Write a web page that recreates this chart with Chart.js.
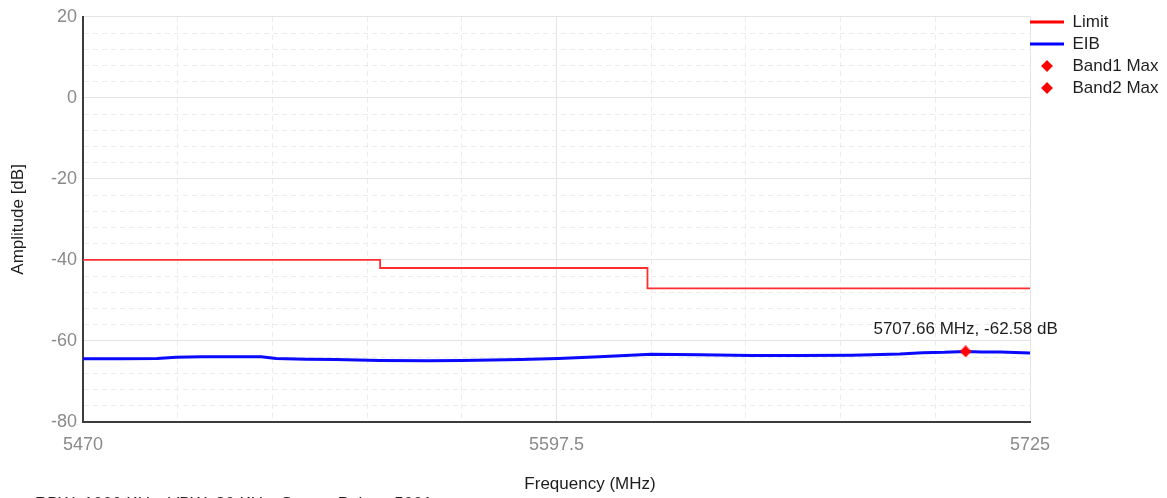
<!DOCTYPE html>
<html>
<head>
<meta charset="utf-8">
<script src="https://cdn.jsdelivr.net/npm/chart.js@4.4.1/dist/chart.umd.min.js"></script>
<style>
    html, body { margin: 0; padding: 0; background: #ffffff; }
    #wrap { width: 1167px; height: 498px; }
</style>
</head>
<body>
<div id="wrap"><canvas id="specChart" width="1167" height="498"></canvas></div>
<script>
// Axis ranges and labelled ticks
const freqMin = 5470;
const freqMax = 5725;
const freqGridStep = 25.5;
const freqLabelTicks = [5470, 5597.5, 5725];
const ampMin = -80;
const ampMax = 20;
const ampGridStep = 4;
const ampLabelTicks = [-80, -60, -40, -20, 0, 20];

// Limit line (stepped)
const limitFreq = [5470, 5550, 5622, 5725];
const limitLevel = [-40, -42, -47, -47];

// EIB trace
const eibFreq = [5470, 5480, 5490, 5495, 5502, 5510, 5518, 5522, 5530, 5538, 5550, 5563, 5572, 5580, 5588,
    5598, 5609, 5616, 5623, 5636, 5650, 5663, 5677, 5690, 5696, 5702, 5707.66, 5712, 5717, 5725];
const eibLevel = [-64.4, -64.4, -64.3, -64.0, -63.9, -63.9, -63.9, -64.3, -64.5, -64.6, -64.8, -64.9, -64.8, -64.7, -64.6,
    -64.3, -63.9, -63.6, -63.3, -63.4, -63.6, -63.6, -63.5, -63.2, -62.9, -62.8, -62.58, -62.7, -62.7, -63.0];

// Band maxima markers
const band1Max = [];
const band2Max = [{ x: 5707.66, y: -62.58 }];
const markerLabel = '5707.66 MHz, -62.58 dB';
const footerText = 'RBW: 1000 KHz, VBW: 30 KHz, Sweep Points: 5001';

const FONT = "'Liberation Sans', Arial, sans-serif";

function makeStar(size, color) {
    const c = document.createElement('canvas');
    c.width = size;
    c.height = size;
    const g = c.getContext('2d');
    const m = size / 2;
    const ir = size * 0.24;
    g.fillStyle = color;
    g.beginPath();
    g.moveTo(m, 0);
    g.lineTo(m + ir, m - ir);
    g.lineTo(size, m);
    g.lineTo(m + ir, m + ir);
    g.lineTo(m, size);
    g.lineTo(m - ir, m + ir);
    g.lineTo(0, m);
    g.lineTo(m - ir, m - ir);
    g.closePath();
    g.fill();
    return c;
}

function isLabelled(list, v) {
    return list.some(t => Math.abs(t - v) < 1e-6);
}

// Pull the legend flush against the plot edge
const legendNudge = {
    id: 'legendNudge',
    afterLayout(chart) {
        chart.legend.left -= 5;
        chart.legend.right -= 5;
        chart.legend.top -= 4.5;
        chart.legend.bottom -= 4.5;
    }
};

// Marker readout, axis caption and sweep info
const textLabels = {
    id: 'textLabels',
    afterDraw(chart) {
        const ctx = chart.ctx;
        const pt = chart.getDatasetMeta(3).data[0];
        ctx.save();
        ctx.fillStyle = '#1e1e1e';
        ctx.font = '17px ' + FONT;
        if (pt) {
            ctx.textAlign = 'center';
            ctx.textBaseline = 'middle';
            ctx.fillText(markerLabel, pt.x, pt.y - 22);
        }
        ctx.textAlign = 'center';
        ctx.textBaseline = 'alphabetic';
        ctx.fillText('Frequency (MHz)', 590, 489);
        ctx.textAlign = 'left';
        ctx.fillText(footerText, 35, 509);
        ctx.restore();
    }
};

function initChart() {
    const ctx = document.getElementById('specChart').getContext('2d');
    const star = makeStar(12, '#ff0000');

    const gridColor = (labels) => (c) =>
        c.tick && isLabelled(labels, c.tick.value) ? '#e4e4e4' : '#ececec';
    const gridDash = (labels) => (c) =>
        c.tick && !isLabelled(labels, c.tick.value) ? [5, 4] : [];

    new Chart(ctx, {
        type: 'line',
        data: {
            datasets: [{
                label: 'Limit',
                data: limitFreq.map((f, i) => ({ x: f, y: limitLevel[i] })),
                borderColor: '#ff2f2f',
                borderWidth: 1.8,
                stepped: 'before',
                pointRadius: 0,
                pointStyle: 'line',
                pointBorderColor: '#ff0000',
                pointBorderWidth: 3,
                order: 2
            },
            {
                label: 'EIB',
                data: eibFreq.map((f, i) => ({ x: f, y: eibLevel[i] })),
                borderColor: '#0a0aff',
                borderWidth: 3,
                tension: 0,
                pointRadius: 0,
                pointStyle: 'line',
                pointBorderColor: '#0000ff',
                pointBorderWidth: 3,
                order: 2
            },
            {
                label: 'Band1 Max',
                data: band1Max,
                showLine: false,
                pointStyle: star,
                pointRadius: 6,
                order: 1
            },
            {
                label: 'Band2 Max',
                data: band2Max,
                showLine: false,
                pointStyle: star,
                pointRadius: 6,
                order: 1
            }]
        },
        options: {
            responsive: false,
            animation: false,
            layout: {
                padding: { top: 13, left: 0, right: 0, bottom: 0 }
            },
            plugins: {
                legend: {
                    position: 'right',
                    align: 'start',
                    maxWidth: 137,
                    labels: {
                        usePointStyle: true,
                        pointStyleWidth: 34,
                        padding: 5,
                        color: '#1e1e1e',
                        font: { family: FONT, size: 17 },
                        sort: (a, b) => a.datasetIndex - b.datasetIndex
                    }
                },
                tooltip: { enabled: false }
            },
            scales: {
                x: {
                    type: 'linear',
                    min: freqMin,
                    max: freqMax,
                    afterFit: (scale) => { scale.height = 76; },
                    ticks: {
                        stepSize: freqGridStep,
                        autoSkip: false,
                        maxRotation: 0,
                        padding: 12,
                        color: '#8a8a8a',
                        font: { family: FONT, size: 18 },
                        callback: (v) => isLabelled(freqLabelTicks, v) ? String(v) : ''
                    },
                    grid: {
                        drawTicks: false,
                        color: gridColor(freqLabelTicks)
                    },
                    border: {
                        color: '#3c3c3c',
                        width: 2,
                        dash: gridDash(freqLabelTicks)
                    }
                },
                y: {
                    min: ampMin,
                    max: ampMax,
                    afterFit: (scale) => { scale.width = 83; },
                    title: {
                        display: true,
                        text: 'Amplitude [dB]',
                        color: '#1e1e1e',
                        font: { family: FONT, size: 17 },
                        padding: { top: 8, bottom: 0 }
                    },
                    ticks: {
                        stepSize: ampGridStep,
                        autoSkip: false,
                        padding: 6,
                        color: '#8a8a8a',
                        font: { family: FONT, size: 18 },
                        callback: (v) => isLabelled(ampLabelTicks, v) ? String(v) : ''
                    },
                    grid: {
                        drawTicks: false,
                        color: gridColor(ampLabelTicks)
                    },
                    border: {
                        color: '#3c3c3c',
                        width: 2,
                        dash: gridDash(ampLabelTicks)
                    }
                }
            }
        },
        plugins: [legendNudge, textLabels]
    });
}

initChart();
</script>
</body>
</html>
